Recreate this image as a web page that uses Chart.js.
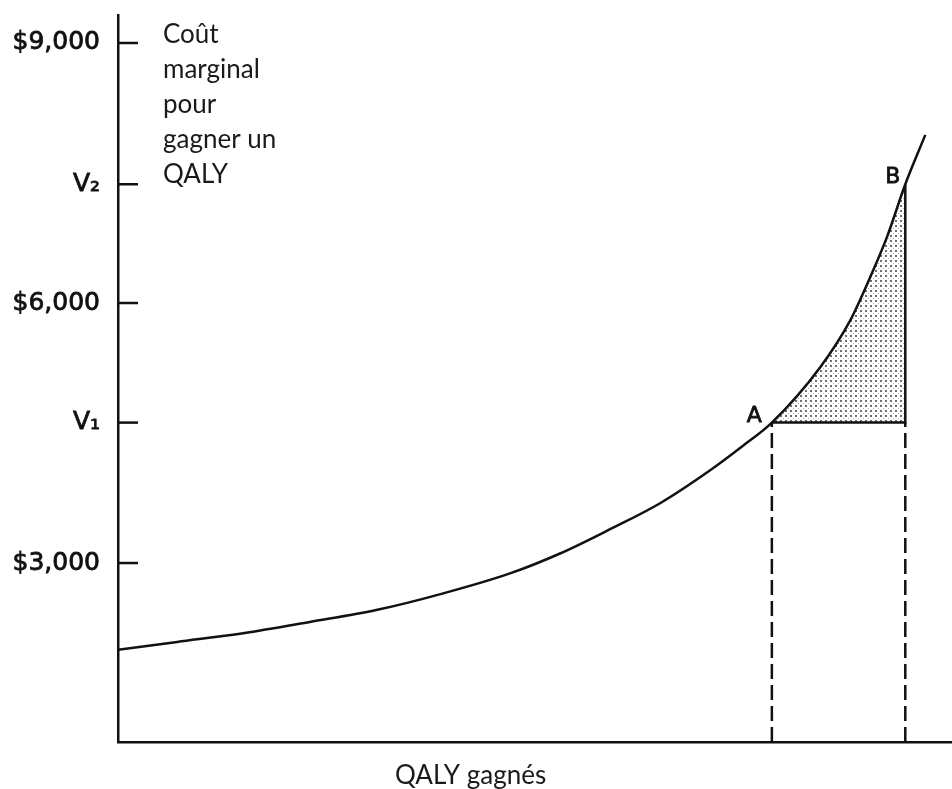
<!DOCTYPE html>
<html>
<head>
<meta charset="utf-8">
<script src="https://cdn.jsdelivr.net/npm/chart.js@4/dist/chart.umd.min.js"></script>
<style>
  html, body { margin: 0; padding: 0; background: #fff; }
  #wrap { width: 952px; height: 789px; }
</style>
</head>
<body>
<div id="wrap"><canvas id="chart" width="952" height="789"></canvas></div>
<script>
//------------------------------------------- Data -------------------------------------------//
// QALY gained (arbitrary units, 0..100 along the x axis) and marginal cost
const qaly = [0, 7.1, 15, 23, 31.1, 39, 47, 53, 59, 65, 71, 74.9, 78.4, 84.2, 87.8, 90.2, 92.2, 94.4, 96.8];
const cost = [2000, 2090, 2190, 2320, 2460, 2650, 2880, 3110, 3390, 3690, 4070, 4350, 4620, 5260, 5800, 6300, 6760, 7370, 7940];

// points A and B on the curve
const pointA = { x: 78.4, y: 4620 };
const pointB = { x: 94.4, y: 7370 };

// y axis ticks
const yTickValues = [3000, 4620, 6000, 7370, 9000];
const yTickLabels = ['$3,000', 'V\u2081', '$6,000', 'V\u2082', '$9,000'];

const yMin = 935;
const yMax = 9323;

const yTitleLines = ['Coût', 'marginal', 'pour', 'gagner un', 'QALY'];
const xTitle = 'QALY gagnés';

//------------------------------------------- Helpers -------------------------------------------//
function toPoints(xs, ys) {
    return xs.map((x, i) => ({ x: x, y: ys[i] }));
}

var curve = toPoints(qaly, cost);
var shaded = curve.filter(p => p.x >= pointA.x && p.x <= pointB.x);

var ctx = document.getElementById('chart').getContext('2d');

function dotPattern() {
    var c = document.createElement('canvas');
    c.width = 5; c.height = 5;
    var g = c.getContext('2d');
    g.fillStyle = '#ffffff';
    g.fillRect(0, 0, 5, 5);
    g.fillStyle = '#6e6e6e';
    g.fillRect(0, 0, 2, 2);
    g.fillStyle = '#b0b0b0';
    g.fillRect(3, 3, 1, 1);
    return ctx.createPattern(c, 'repeat');
}

// tick marks inside the plot + free text
const decorations = {
    id: 'decorations',
    afterDraw(chart) {
        var c = chart.ctx;
        var area = chart.chartArea;
        var xs = chart.scales.x;
        var ys = chart.scales.y;
        c.save();
        c.strokeStyle = '#111';
        c.lineWidth = 2.5;
        yTickValues.forEach(v => {
            var py = ys.getPixelForValue(v);
            c.beginPath();
            c.moveTo(area.left, py);
            c.lineTo(area.left + 20, py);
            c.stroke();
        });

        c.fillStyle = '#111';
        c.strokeStyle = '#111';
        c.lineWidth = 0.8;
        c.font = '22px "DejaVu Sans"';
        c.textBaseline = 'alphabetic';
        c.textAlign = 'right';
        var ax = xs.getPixelForValue(pointA.x) - 10, ay = ys.getPixelForValue(pointA.y) - 1;
        var bx = xs.getPixelForValue(pointB.x) - 5, by = ys.getPixelForValue(pointB.y) - 1;
        c.fillText('A', ax, ay); c.strokeText('A', ax, ay);
        c.fillText('B', bx, by); c.strokeText('B', bx, by);

        c.fillStyle = '#1a1a1a';
        c.font = '26px Lato';
        c.textAlign = 'left';
        yTitleLines.forEach((t, i) => {
            c.fillText(t, 163, 43 + i * 35);
        });
        c.fillText(xTitle, 395, 784);
        c.restore();
    }
};

//------------------------------------------- Chart -------------------------------------------//
var chart = new Chart(ctx, {
    type: 'scatter',
    data: {
        datasets: [
            {
                // marginal cost curve
                data: curve,
                showLine: true,
                borderColor: '#111',
                borderWidth: 2.5,
                cubicInterpolationMode: 'monotone',
                pointRadius: 0,
                fill: false
            },
            {
                // A -> horizontal -> up to B
                data: [{ x: pointA.x, y: pointA.y }, { x: pointB.x, y: pointA.y }, { x: pointB.x, y: pointB.y }],
                showLine: true,
                borderColor: '#111',
                borderWidth: 2.5,
                pointRadius: 0,
                fill: false
            },
            {
                data: [{ x: pointA.x, y: yMin }, { x: pointA.x, y: pointA.y }],
                showLine: true,
                borderColor: '#111',
                borderWidth: 2.5,
                borderDash: [15, 6],
                pointRadius: 0,
                fill: false
            },
            {
                data: [{ x: pointB.x, y: yMin }, { x: pointB.x, y: pointA.y }],
                showLine: true,
                borderColor: '#111',
                borderWidth: 2.5,
                borderDash: [15, 6],
                pointRadius: 0,
                fill: false
            },
            {
                // shaded area between A and B (last so it is drawn underneath)
                data: shaded,
                showLine: true,
                borderWidth: 0,
                borderColor: 'rgba(0,0,0,0)',
                cubicInterpolationMode: 'monotone',
                pointRadius: 0,
                backgroundColor: dotPattern(),
                fill: { value: pointA.y }
            }
        ]
    },
    options: {
        responsive: false,
        animation: false,
        layout: {
            padding: { top: 15, right: 0, bottom: 0, left: 0 }
        },
        plugins: {
            legend: { display: false },
            tooltip: { enabled: false }
        },
        scales: {
            x: {
                type: 'linear',
                min: 0,
                max: 100,
                grid: { display: true, drawOnChartArea: false, drawTicks: false },
                border: { display: true, color: '#111', width: 2.5 },
                ticks: { display: false },
                afterFit: function(scale) {
                    scale.height = 47;
                    scale.paddingLeft = 0;
                    scale.paddingRight = 0;
                }
            },
            y: {
                type: 'linear',
                min: yMin,
                max: yMax,
                grid: { display: true, drawOnChartArea: false, drawTicks: false },
                border: { display: true, color: '#111', width: 2.5 },
                afterBuildTicks: function(scale) {
                    scale.ticks = yTickValues.map(v => ({ value: v }));
                },
                ticks: {
                    padding: 18,
                    color: '#111',
                    textStrokeColor: '#111',
                    textStrokeWidth: 0.8,
                    font: { family: '"DejaVu Sans"', size: 25 },
                    autoSkip: false,
                    callback: function(value) {
                        var i = yTickValues.indexOf(value);
                        return i >= 0 ? yTickLabels[i] : '';
                    }
                },
                afterFit: function(scale) {
                    scale.width = 118;
                    scale.paddingTop = 0;
                    scale.paddingBottom = 0;
                }
            }
        }
    },
    plugins: [decorations]
});
</script>
</body>
</html>
